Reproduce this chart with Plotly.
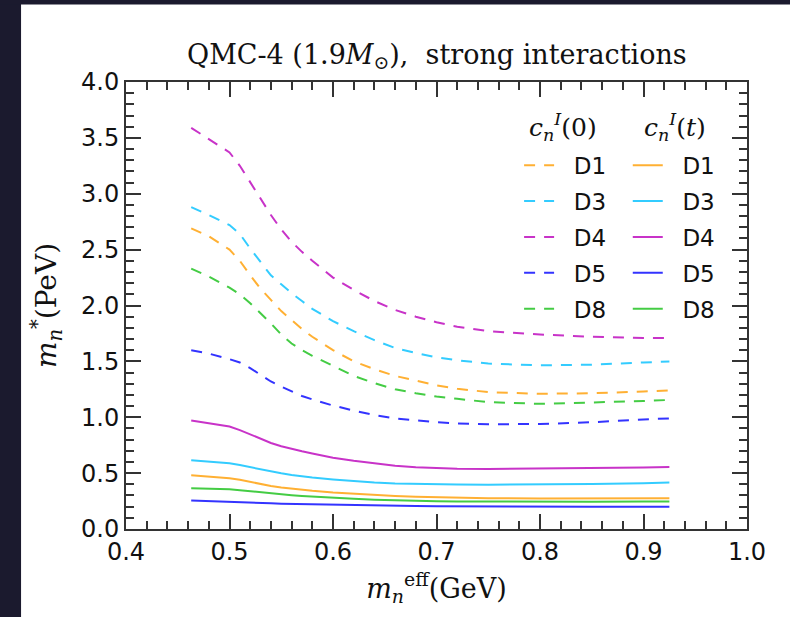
import plotly.graph_objects as go

# ---------------- data ----------------
x = [0.463, 0.48, 0.5, 0.51, 0.52, 0.53, 0.54, 0.55, 0.56, 0.57, 0.58, 0.6,
     0.62, 0.64, 0.66, 0.68, 0.7, 0.72, 0.75, 0.8, 0.85, 0.9, 0.925]

labels = ["D1", "D3", "D4", "D5", "D8"]

# c_n^I(0)  (dashed)
d1_0 = [2.69, 2.62, 2.50, 2.40, 2.27, 2.15, 2.05, 1.95, 1.87, 1.79, 1.72, 1.60,
        1.50, 1.43, 1.37, 1.325, 1.285, 1.255, 1.225, 1.21, 1.215, 1.23, 1.24]
d3_0 = [2.88, 2.81, 2.72, 2.64, 2.51, 2.39, 2.27, 2.19, 2.11, 2.04, 1.97, 1.86,
        1.77, 1.69, 1.62, 1.575, 1.535, 1.51, 1.48, 1.465, 1.47, 1.49, 1.50]
d4_0 = [3.59, 3.49, 3.37, 3.25, 3.10, 2.95, 2.81, 2.68, 2.57, 2.48, 2.40, 2.25,
        2.14, 2.04, 1.96, 1.90, 1.85, 1.81, 1.77, 1.74, 1.72, 1.71, 1.71]
d5_0 = [1.60, 1.57, 1.52, 1.49, 1.44, 1.38, 1.32, 1.275, 1.23, 1.19, 1.16, 1.105,
        1.06, 1.02, 0.99, 0.97, 0.955, 0.945, 0.937, 0.94, 0.955, 0.98, 0.99]
d8_0 = [2.33, 2.26, 2.16, 2.10, 2.02, 1.93, 1.84, 1.74, 1.66, 1.60, 1.55, 1.46,
        1.37, 1.305, 1.25, 1.215, 1.185, 1.165, 1.135, 1.12, 1.13, 1.145, 1.155]

# c_n^I(t)  (solid)
d1_t = [0.481, 0.47, 0.454, 0.44, 0.42, 0.402, 0.385, 0.372, 0.36, 0.35, 0.342, 0.327,
        0.315, 0.304, 0.295, 0.288, 0.283, 0.28, 0.276, 0.274, 0.274, 0.275, 0.276]
d3_t = [0.616, 0.605, 0.589, 0.572, 0.553, 0.533, 0.513, 0.498, 0.483, 0.47, 0.46, 0.443,
        0.428, 0.415, 0.407, 0.402, 0.40, 0.398, 0.397, 0.398, 0.403, 0.41, 0.415]
d4_t = [0.97, 0.945, 0.917, 0.885, 0.845, 0.805, 0.77, 0.74, 0.715, 0.695, 0.676, 0.638,
        0.61, 0.586, 0.566, 0.553, 0.545, 0.54, 0.537, 0.54, 0.545, 0.55, 0.555]
d5_t = [0.254, 0.25, 0.245, 0.241, 0.237, 0.233, 0.23, 0.227, 0.225, 0.223, 0.221, 0.217,
        0.213, 0.21, 0.207, 0.205, 0.203, 0.202, 0.20, 0.199, 0.199, 0.199, 0.20]
d8_t = [0.365, 0.361, 0.355, 0.347, 0.337, 0.328, 0.32, 0.311, 0.303, 0.296, 0.29, 0.279,
        0.27, 0.262, 0.256, 0.252, 0.249, 0.247, 0.245, 0.244, 0.244, 0.245, 0.246]

series_0 = [d1_0, d3_0, d4_0, d5_0, d8_0]
series_t = [d1_t, d3_t, d4_t, d5_t, d8_t]

x_ticks = [0.4, 0.5, 0.6, 0.7, 0.8, 0.9, 1.0]
y_ticks = [0.0, 0.5, 1.0, 1.5, 2.0, 2.5, 3.0, 3.5, 4.0]

colors = ["#ffb033", "#33ccff", "#c833c8", "#3333ff", "#44cc44"]

# ---------------- figure ----------------
NBSP = "\u00a0\u00a0"
fig = go.Figure()
for i, (lab, ys) in enumerate(zip(labels, series_0)):
    fig.add_trace(go.Scatter(x=x, y=ys, mode="lines", name=NBSP + lab,
                             line=dict(color=colors[i], width=2, dash="11px,9px"),
                             legend="legend", legendgroup="a" + lab))
for i, (lab, ys) in enumerate(zip(labels, series_t)):
    fig.add_trace(go.Scatter(x=x, y=ys, mode="lines", name=NBSP + lab,
                             line=dict(color=colors[i], width=2),
                             legend="legend2", legendgroup="b" + lab))

axis_common = dict(
    showline=True, linecolor="#333333", linewidth=2, mirror="allticks",
    ticks="inside", ticklen=15, tickwidth=2, tickcolor="#333333",
    showgrid=False, zeroline=False,
    tickfont=dict(family="DejaVu Sans", size=24, color="#111111"),
)

fig.update_xaxes(range=[0.4, 1.0], tickvals=x_ticks,
                 ticktext=[f"{v:.1f}" for v in x_ticks],
                 minor=dict(ticks="inside", ticklen=8, tickwidth=1.5,
                            tickcolor="#333333", dtick=0.02, tick0=0.4, showgrid=False),
                 title=dict(text="<i>m</i><sub><i>n</i></sub><sup>eff</sup>(GeV)",
                            font=dict(family="DejaVu Serif", size=27, color="#111111"),
                            standoff=14),
                 **axis_common)
fig.update_yaxes(range=[0.0, 4.0], tickvals=y_ticks,
                 ticktext=[f"{v:.1f}" for v in y_ticks],
                 minor=dict(ticks="inside", ticklen=8, tickwidth=1.5,
                            tickcolor="#333333", dtick=0.1, tick0=0.0, showgrid=False),
                 title=dict(text="<i>m</i><sub><i>n</i></sub><sup>*</sup>(PeV)",
                            font=dict(family="DejaVu Serif", size=28, color="#111111"),
                            standoff=16),
                 **axis_common)

legend_common = dict(
    bgcolor="rgba(0,0,0,0)", borderwidth=0,
    font=dict(family="DejaVu Sans", size=23, color="#111111"),
    yanchor="top", xanchor="left", tracegroupgap=3, itemwidth=30,
    traceorder="grouped",
)

fig.update_layout(
    width=790, height=617,
    margin=dict(l=126, r=43, t=82, b=88),
    paper_bgcolor="white", plot_bgcolor="white",
    title=dict(text="QMC-4 (1.9<i>M</i><sub>⊙</sub>),  strong interactions",
               x=0.553, xanchor="center", y=0.912, yanchor="middle",
               font=dict(family="DejaVu Serif", size=27, color="#111111")),
    legend=dict(x=0.633, y=0.862, **legend_common),
    legend2=dict(x=0.808, y=0.862, **legend_common),
    annotations=[
        dict(text="<i>c</i><sub><i>n</i></sub><sup><i>I</i></sup>(0)", xref="paper", yref="paper",
             x=0.703, y=0.90, xanchor="center", yanchor="middle", showarrow=False,
             font=dict(family="DejaVu Serif", size=25, color="#111111")),
        dict(text="<i>c</i><sub><i>n</i></sub><sup><i>I</i></sup>(<i>t</i>)", xref="paper", yref="paper",
             x=0.884, y=0.90, xanchor="center", yanchor="middle", showarrow=False,
             font=dict(family="DejaVu Serif", size=25, color="#111111")),
    ],
    shapes=[
        dict(type="rect", xref="paper", yref="paper", x0=-0.25, x1=-0.169, y0=-0.3, y1=1.3,
             fillcolor="#1b1a2e", line=dict(width=0), layer="above"),
        dict(type="rect", xref="paper", yref="paper", x0=-0.25, x1=1.2,
             y0=1 + 77.5 / 446.5, y1=1.3,
             fillcolor="#1b1a2e", line=dict(width=0), layer="above"),
    ],
)

fig.write_html("out.html",
               config={"displayModeBar": False},
               post_script="document.body.style.margin='0';document.body.style.overflow='hidden';")
